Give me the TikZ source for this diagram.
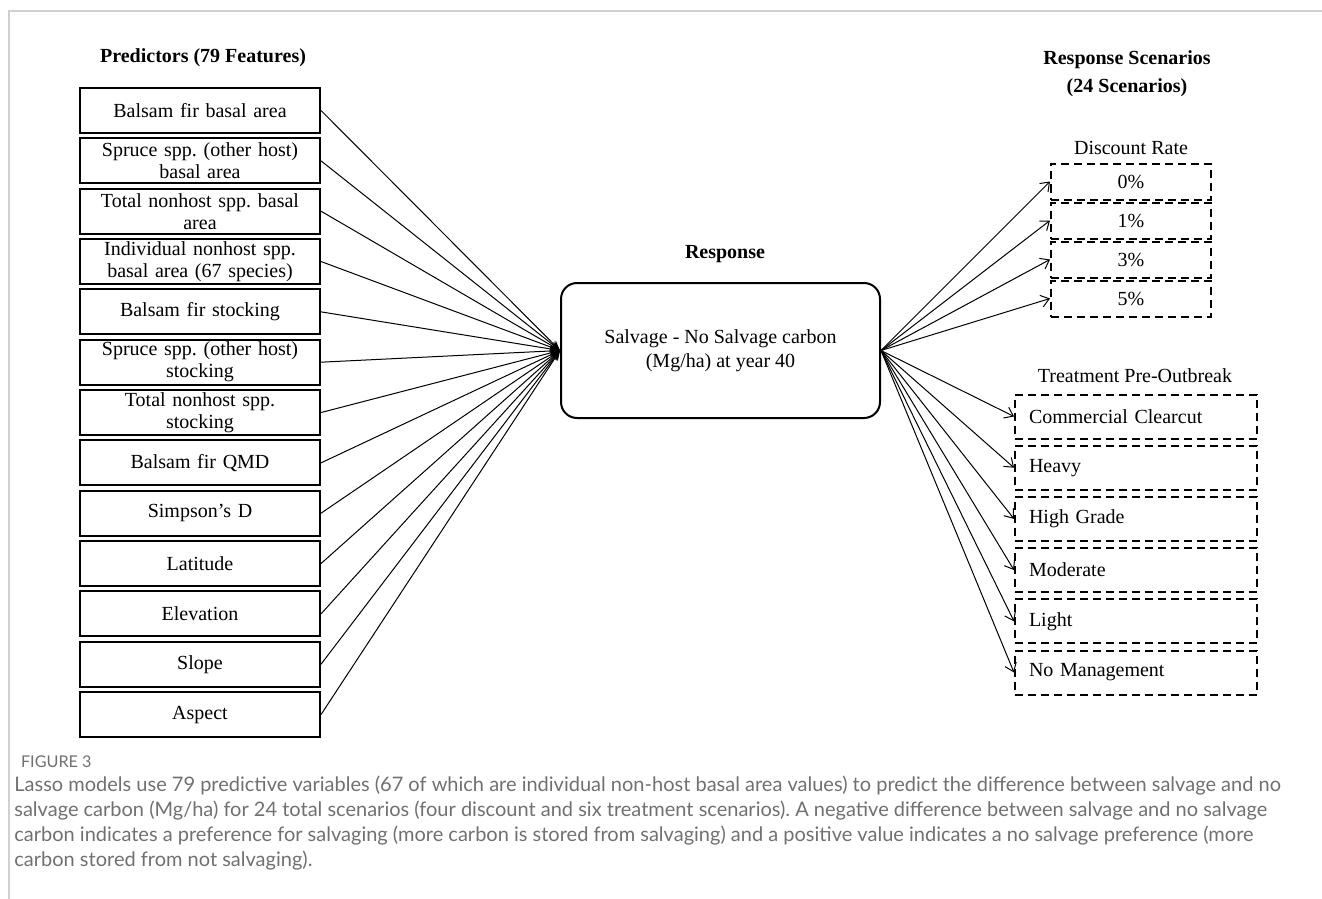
\documentclass[tikz,border=0pt]{standalone}
\usepackage{xcolor}
\usepackage{fontspec}
\setmainfont{Liberation Serif}
\newfontfamily\capfont{Lato}
\usepackage{tikz}
\usetikzlibrary{positioning, arrows.meta}

\definecolor{capgray}{HTML}{707070}
\definecolor{framegray}{HTML}{D0D0D0}

\tikzset{
    predbox/.style={draw, line width=1pt, minimum width=120pt, minimum height=22.5pt, text width=116pt, align=center, inner sep=0pt, font=\fontsize{10}{11}\selectfont},
    ratebox/.style={draw, line width=1pt, dash pattern=on 4pt off 2.5pt, minimum width=80pt, minimum height=18pt, inner sep=0pt, font=\fontsize{10}{11}\selectfont},
    treatbox/.style={draw, line width=1pt, dash pattern=on 4pt off 2.5pt, minimum height=22pt, text width=107pt, align=left, inner xsep=7pt, inner ysep=0pt, font=\fontsize{10}{11}\selectfont},
    respbox/.style={draw, line width=1pt, rounded corners=8pt, minimum width=159.5pt, minimum height=67.5pt, align=center, font=\fontsize{10}{12}\selectfont},
    headtitle/.style={align=center, font=\fontsize{10}{14}\selectfont\bfseries},
    subtitle/.style={font=\fontsize{10}{11}\selectfont},
    predarrow/.style={line width=0.5pt, -{Stealth[length=5pt, width=4pt]}},
    scenarrow/.style={line width=0.5pt, -{Straight Barb[length=4pt, width=6pt]}}
}

\begin{document}
\frenchspacing
\begin{tikzpicture}[x=0.5pt, y=-0.5pt]

\useasboundingbox (0,0) rectangle (1322,899);

% frame
\draw[framegray, line width=1pt] (9,899) -- (9,11) -- (1322,11);

% Titles
\node[headtitle] (predtitle) at (203,58) {Predictors (79 Features)};
\node[headtitle] (resptitle) at (725,254) {Response};
\node[headtitle] (scentitle) at (1127,74) {Response Scenarios\\(24 Scenarios)};
\node[subtitle] (ratetitle) at (1131,148) {Discount Rate};
\node[subtitle] (treattitle) at (1135,376) {Treatment Pre-Outbreak};

% Predictors
\node[predbox] (bfba) at (200,110.5) {Balsam fir basal area};
\node[predbox, below=1.67pt of bfba] (spba) {Spruce spp. (other host)\\basal area};
\node[predbox, below=1.67pt of spba] (tnba) {Total nonhost spp. basal\\area};
\node[predbox, below=1.67pt of tnba] (inba) {Individual nonhost spp.\\basal area (67 species)};
\node[predbox, below=1.67pt of inba] (bfst) {Balsam fir stocking};
\node[predbox, below=1.67pt of bfst] (spst) {Spruce spp. (other host)\\stocking};
\node[predbox, below=1.67pt of spst] (tnst) {Total nonhost spp.\\stocking};
\node[predbox, below=1.67pt of tnst] (bfqmd) {Balsam fir QMD};
\node[predbox, below=1.67pt of bfqmd] (simp) {Simpson's D};
\node[predbox, below=1.67pt of simp] (lat) {Latitude};
\node[predbox, below=1.67pt of lat] (elev) {Elevation};
\node[predbox, below=1.67pt of elev] (slope) {Slope};
\node[predbox, below=1.67pt of slope] (aspect) {Aspect};

% Response
\node[respbox] (resp) at (720.5,350.5) {Salvage - No Salvage carbon\\(Mg/ha) at year 40};

% Discount rates
\node[ratebox] (r0) at (1131,181.5) {0\%};
\node[ratebox, below=0.5pt of r0] (r1) {1\%};
\node[ratebox, below=0.5pt of r1] (r3) {3\%};
\node[ratebox, below=0.5pt of r3] (r5) {5\%};

% Treatments
\node[treatbox] (cc) at (1136,416.5) {Commercial Clearcut};
\node[treatbox, below=2.6pt of cc] (heavy) {Heavy};
\node[treatbox, below=2.6pt of heavy] (hg) {High Grade};
\node[treatbox, below=2.6pt of hg] (mod) {Moderate};
\node[treatbox, below=2.6pt of mod] (light) {Light};
\node[treatbox, below=2.6pt of light] (nomgmt) {No Management};

% Connectors
\draw[predarrow] (bfba.east) -- (resp.west);
\draw[predarrow] (spba.east) -- (resp.west);
\draw[predarrow] (tnba.east) -- (resp.west);
\draw[predarrow] (inba.east) -- (resp.west);
\draw[predarrow] (bfst.east) -- (resp.west);
\draw[predarrow] (spst.east) -- (resp.west);
\draw[predarrow] (tnst.east) -- (resp.west);
\draw[predarrow] (bfqmd.east) -- (resp.west);
\draw[predarrow] (simp.east) -- (resp.west);
\draw[predarrow] (lat.east) -- (resp.west);
\draw[predarrow] (elev.east) -- (resp.west);
\draw[predarrow] (slope.east) -- (resp.west);
\draw[predarrow] (aspect.east) -- (resp.west);

\draw[scenarrow] (resp.east) -- (r0.west);
\draw[scenarrow] (resp.east) -- (r1.west);
\draw[scenarrow] (resp.east) -- (r3.west);
\draw[scenarrow] (resp.east) -- (r5.west);
\draw[scenarrow] (resp.east) -- (cc.west);
\draw[scenarrow] (resp.east) -- (heavy.west);
\draw[scenarrow] (resp.east) -- (hg.west);
\draw[scenarrow] (resp.east) -- (mod.west);
\draw[scenarrow] (resp.east) -- (light.west);
\draw[scenarrow] (resp.east) -- (nomgmt.west);

% Caption
\node[anchor=west, text=capgray, font=\capfont\fontsize{8.1}{9}\selectfont] (figlabel) at (14,762) {FIGURE 3};
\node[anchor=north west, align=left, inner sep=0pt, text=capgray, font=\capfont\fontsize{10}{12.5}\selectfont] (caption) at (14,776) {Lasso models use 79 predictive variables (67 of which are individual non-host basal area values) to predict the difference between salvage and no\\salvage carbon (Mg/ha) for 24 total scenarios (four discount and six treatment scenarios). A negative difference between salvage and no salvage\\carbon indicates a preference for salvaging (more carbon is stored from salvaging) and a positive value indicates a no salvage preference (more\\carbon stored from not salvaging).};

\end{tikzpicture}
\end{document}
